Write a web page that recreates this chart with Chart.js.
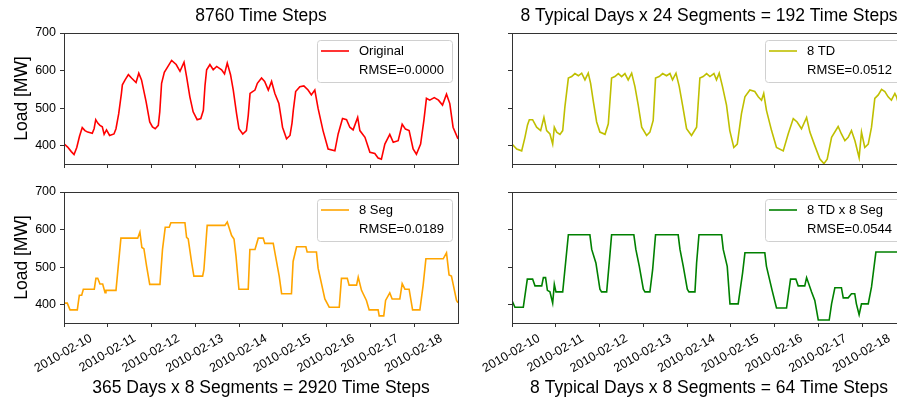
<!DOCTYPE html>
<html>
<head>
<meta charset="utf-8">
<script src="https://cdn.jsdelivr.net/npm/chart.js@4.4.0/dist/chart.umd.min.js"></script>
<style>
html, body { margin: 0; padding: 0; background: #fff; overflow: hidden; }
#fig { position: relative; width: 920px; height: 401px; }
#fig canvas { position: absolute; }
</style>
</head>
<body>
<div id="fig">
  <canvas id="c1"></canvas>
  <canvas id="c2"></canvas>
  <canvas id="c3"></canvas>
  <canvas id="c4"></canvas>
</div>
<script>
// tick labels
const dayLabels = ['2010-02-10', '2010-02-11', '2010-02-12', '2010-02-13', '2010-02-14',
                   '2010-02-15', '2010-02-16', '2010-02-17', '2010-02-18'];
const dayHours = [0, 24, 48, 72, 96, 120, 144, 168, 192];
const yTicks = [400, 500, 600, 700];

// Original, 8760 time steps (hours since 2010-02-10 00:00)
const origHours = [0, 2, 4, 5.5, 7, 8.5, 10, 11.5, 13, 15.5, 16.5, 17.4, 18.5, 19.7, 21, 22, 23.3, 25, 27.4, 28.5,
  30, 31.5, 32, 33.5, 35.3, 37, 39.5, 41, 42.5, 45, 47, 48.5, 50, 51.7, 52.5, 53.5, 55, 56.5, 59, 61.5,
  63.6, 65.8, 67.2, 69, 70.8, 73, 75, 76.4, 77.3, 78.2, 80, 81.8, 83.7, 86.4, 88, 89.5, 91.3, 92.8, 94.6, 95.9,
  98, 100, 101, 102, 103.4, 104.7, 106, 108.3, 110, 112, 113.8, 115.6, 117.8, 119, 119.8, 122, 123.9, 125, 125.7, 127,
  129.3, 131.5, 133.8, 135.6, 137.5, 139.3, 142, 144.8, 148.5, 150.3, 152.7, 154.9, 156.7, 158.5, 161, 162.2, 165, 167.7, 170.4, 172.2,
  174, 175.9, 178.6, 180.5, 183.2, 185.4, 187.2, 189.2, 191.4, 193.2, 195.5, 197.3, 198.7, 200.5, 203, 205.3, 207.5, 209.7, 211.5, 213.3, 216];
const origLoad = [405, 396, 384, 376, 395, 425, 448, 440, 436, 433, 445, 469, 460, 454, 450, 430, 442, 427, 431, 445,
  485, 540, 562, 575, 589, 580, 568, 593, 575, 517, 463, 450, 445, 454, 490, 566, 595, 607, 627, 616,
  598, 622, 584, 530, 490, 469, 472, 494, 560, 602, 616, 602, 611, 602, 591, 620, 589, 548, 485, 445,
  431, 440, 480, 539, 544, 548, 566, 580, 571, 548, 571, 539, 512, 475, 449, 418, 427, 460, 494, 544,
  557, 559, 548, 535, 548, 499, 440, 391, 386, 431, 472, 469, 449, 442, 475, 440, 422, 382, 379, 367,
  364, 404, 430, 409, 413, 457, 444, 440, 391, 377, 404, 467, 526, 521, 528, 521, 508, 537, 512, 449, 418];

// 8 typical days x 24 segments
const tdHours = [0, 2.6, 5.3, 7.1, 8.5, 9.5, 11.3, 13.5, 15.7, 17.5, 19, 20.8, 22.3, 23.2, 24.5, 26.3, 27.8, 29, 30.9, 32.7,
  34.5, 36.4, 38.2, 40, 41.8, 43.1, 44.6, 46.4, 48.2, 51, 52.8, 54.6, 56.4, 58.3, 60.1, 61.9, 63.7, 65.6, 67.4, 69.2,
  71.1, 73.8, 75.6, 77.4, 78.7, 80.7, 82.6, 84.7, 86.6, 88, 89.9, 91.7, 93.5, 95.7, 98.4, 101.2, 103, 104.8, 106.7, 108.5,
  110.7, 112.1, 113.6, 115.4, 117.6, 119.4, 121.6, 123.5, 125.8, 127.7, 130.4, 133.1, 135, 136.8, 138, 139.5, 142.3, 145, 148.7, 151.4,
  154.2, 156.3, 158.7, 161.5, 163.3, 166, 168.8, 171, 172.8, 175.2, 178.8, 180.6, 182.5, 184.3, 186.1, 188, 190.3, 191.6, 193.4, 195.3,
  197.1, 198.9, 200.8, 202.6, 204.4, 206.2, 208, 209.9, 210.8, 212.5, 214, 216];
const tdLoad = [404, 391, 386, 422, 455, 469, 469, 449, 440, 475, 440, 431, 404, 449, 436, 430, 440, 503, 580, 584,
  592, 586, 593, 575, 593, 566, 517, 463, 436, 430, 458, 580, 584, 592, 584, 592, 575, 593, 557, 508,
  449, 427, 436, 467, 580, 584, 592, 586, 592, 575, 593, 557, 508, 445, 427, 449, 580, 584, 592, 584,
  592, 575, 593, 557, 508, 440, 395, 404, 485, 530, 548, 544, 530, 521, 539, 494, 440, 395, 386, 431,
  472, 463, 445, 475, 436, 400, 364, 352, 364, 422, 451, 431, 413, 422, 440, 413, 368, 436, 395, 404,
  449, 526, 535, 550, 544, 530, 521, 539, 530, 500, 460, 425];

// 365 days x 8 segments
const segHours = [0, 1.8, 3.3, 7.3, 8.4, 9.7, 10.6, 16.6, 17.5, 18.5, 19.7, 21.2, 22.5, 23, 28.5, 31.2, 40.4, 41.6, 42.7, 43.8,
  45.3, 47, 52.6, 54, 55.5, 57.7, 58.6, 66.3, 67.2, 68.1, 70, 71.2, 76, 76.7, 78.5, 88.2, 89.5, 91.9, 93.2, 94.3,
  95.9, 101, 101.9, 104.7, 106.5, 109.2, 110.1, 114.7, 116.5, 118, 119.3, 124.7, 125.6, 127.5, 132.6, 133.3, 138.4, 139.3, 143, 145.4,
  150.9, 152.1, 155.3, 156.3, 160.4, 161.3, 163.1, 165.8, 167.3, 172.2, 172.8, 175.3, 176.3, 178.6, 179.9, 184.1, 185.4, 186.9, 189.2, 191.1,
  195.1, 196.9, 198.4, 207.9, 209.7, 211.1, 212.4, 215.2, 216];
const segLoad = [404, 404, 386, 386, 425, 425, 441, 441, 470, 470, 455, 455, 432, 438, 438, 577, 577, 593, 552, 549,
  502, 454, 454, 547, 606, 606, 618, 618, 579, 575, 511, 476, 476, 493, 611, 611, 620, 584, 575, 529,
  441, 441, 547, 547, 577, 577, 563, 563, 515, 475, 429, 429, 515, 554, 554, 540, 540, 497, 415, 393,
  393, 470, 470, 452, 452, 473, 438, 411, 386, 386, 370, 370, 411, 431, 415, 415, 456, 441, 441, 386,
  386, 452, 522, 522, 538, 479, 476, 411, 405];

// 8 typical days x 8 segments
const tdSegHours = [0, 1.6, 6.2, 8.4, 11.3, 12.6, 16.3, 17.2, 18.4, 19.4, 20.8, 22.3, 23.2, 24.1, 27.8, 30.9, 42.7, 43.7, 46, 48.2,
  49.1, 51.9, 53.3, 54.6, 66.8, 67.9, 69.8, 72, 72.9, 75.6, 77.1, 78.7, 91.1, 92.1, 93.9, 96.1, 97, 100.3, 101.2, 102.5,
  114.9, 115.8, 118, 119.5, 124, 126.4, 127.7, 138.6, 139.5, 142.6, 145, 150.5, 152.7, 155.6, 156.9, 160.5, 161.5, 164.2, 166, 167.9,
  173.9, 175.2, 177, 180.6, 181.6, 184.3, 186.1, 187.9, 188.8, 190.3, 191.6, 195.3, 197.1, 199.5, 216];
const tdSegLoad = [411, 393, 393, 468, 468, 450, 450, 472, 472, 438, 434, 404, 454, 434, 434, 586, 586, 547, 511, 441,
  434, 434, 511, 586, 586, 547, 502, 441, 434, 434, 493, 586, 586, 547, 502, 441, 434, 434, 511, 586,
  586, 547, 502, 402, 402, 484, 538, 538, 502, 438, 391, 391, 468, 468, 450, 450, 472, 434, 411, 359,
  359, 402, 445, 445, 418, 418, 429, 429, 402, 373, 402, 402, 447, 540, 540];

const FONT = 'Arial, "Liberation Sans", sans-serif';
const AXIS = '#333';

// frame, inside legend, titles and y label
const decorPlugin = {
  id: 'decor',
  afterDraw(chart) {
    const ctx = chart.ctx, a = chart.chartArea, o = chart.options.plugins.decor;
    ctx.save();
    ctx.strokeStyle = AXIS;
    ctx.lineWidth = 1;
    ctx.strokeRect(Math.round(a.left) + 0.5, Math.round(a.top) + 0.5,
                   Math.round(a.right - a.left), Math.round(a.bottom - a.top));

    // legend
    const bw = 135, bh = 42;
    const bx = a.right - 6 - bw, by = a.top + 7;
    ctx.beginPath();
    ctx.roundRect(bx + 0.5, by + 0.5, bw, bh, 3);
    ctx.fillStyle = 'rgba(255,255,255,0.8)';
    ctx.fill();
    ctx.strokeStyle = '#d0d0d0';
    ctx.stroke();
    ctx.beginPath();
    ctx.moveTo(bx + 4, by + 11);
    ctx.lineTo(bx + 32, by + 11);
    ctx.strokeStyle = o.color;
    ctx.lineWidth = 1.6;
    ctx.stroke();
    ctx.fillStyle = '#000';
    ctx.font = '13px ' + FONT;
    ctx.textBaseline = 'middle';
    ctx.textAlign = 'left';
    ctx.fillText(o.label, bx + 42, by + 11);
    ctx.fillText(o.rmse, bx + 42, by + 30);

    // title
    const cx = (a.left + a.right) / 2;
    ctx.font = '17.5px ' + FONT;
    ctx.textAlign = 'center';
    ctx.fillText(o.title, cx, o.titleY);

    if (o.yLabel) {
      ctx.translate(o.yLabelX, (a.top + a.bottom) / 2);
      ctx.rotate(-Math.PI / 2);
      ctx.fillText(o.yLabel, 0, 0);
    }
    ctx.restore();
  }
};

function panel(id, box, area, cfg) {
  const cv = document.getElementById(id);
  cv.width = box.w;
  cv.height = box.h;
  cv.style.left = box.x + 'px';
  cv.style.top = box.y + 'px';
  const padTop = area.t - box.y;
  const padRight = box.x + box.w - area.r;
  const yW = area.l - box.x;
  const xH = box.y + box.h - area.b;

  new Chart(cv, {
    type: 'line',
    data: {
      datasets: [{
        label: cfg.label,
        data: cfg.hours.map((h, i) => ({ x: h, y: cfg.load[i] })),
        borderColor: cfg.color,
        borderWidth: 1.6,
        pointRadius: 0,
        fill: false,
        tension: 0
      }]
    },
    options: {
      responsive: false,
      animation: false,
      devicePixelRatio: 1,
      layout: { padding: { top: padTop, right: padRight, left: 0, bottom: 0 } },
      plugins: {
        legend: { display: false },
        tooltip: { enabled: false },
        decor: {
          color: cfg.color, label: cfg.label, rmse: cfg.rmse,
          title: cfg.title, titleY: cfg.titleY - box.y,
          yLabel: cfg.yLabel, yLabelX: 22 - box.x
        }
      },
      scales: {
        x: {
          type: 'linear', min: 0, max: 216,
          afterBuildTicks: s => { s.ticks = dayHours.map(v => ({ value: v })); },
          afterFit: s => { s.height = xH; s.paddingLeft = 0; s.paddingRight = 0; },
          border: { display: false },
          grid: { drawOnChartArea: false, drawTicks: true, tickLength: 4, tickColor: AXIS, tickWidth: 1 },
          ticks: {
            display: cfg.xLabels, autoSkip: false, minRotation: 30, maxRotation: 30,
            labelOffset: 27, padding: 4, color: '#000',
            font: { family: FONT, size: 12.5 },
            callback: v => dayLabels[dayHours.indexOf(v)]
          }
        },
        y: {
          min: 351, max: 700,
          afterBuildTicks: s => { s.ticks = yTicks.map(v => ({ value: v })); },
          afterFit: s => { s.width = yW; s.paddingTop = 0; s.paddingBottom = 0; },
          border: { display: false },
          grid: { drawOnChartArea: false, drawTicks: true, tickLength: 4, tickColor: AXIS, tickWidth: 1 },
          ticks: { display: cfg.yLabels, padding: 4, color: '#000', font: { family: FONT, size: 12.5 } }
        }
      }
    },
    plugins: [decorPlugin]
  });
}

panel('c1', { x: 0, y: 0, w: 480, h: 178 }, { l: 64, t: 33, r: 458, b: 164 }, {
  hours: origHours, load: origLoad, color: '#ff0000', label: 'Original', rmse: 'RMSE=0.0000',
  title: '8760 Time Steps', titleY: 16, yLabel: 'Load [MW]', xLabels: false, yLabels: true
});
panel('c2', { x: 480, y: 0, w: 440, h: 178 }, { l: 512, t: 33, r: 906, b: 164 }, {
  hours: tdHours, load: tdLoad, color: '#bfbf00', label: '8 TD', rmse: 'RMSE=0.0512',
  title: '8 Typical Days x 24 Segments = 192 Time Steps', titleY: 16, yLabel: null, xLabels: false, yLabels: false
});
panel('c3', { x: 0, y: 178, w: 480, h: 223 }, { l: 64, t: 192, r: 458, b: 323 }, {
  hours: segHours, load: segLoad, color: '#ffa500', label: '8 Seg', rmse: 'RMSE=0.0189',
  title: '365 Days x 8 Segments = 2920 Time Steps', titleY: 388, yLabel: 'Load [MW]', xLabels: true, yLabels: true
});
panel('c4', { x: 480, y: 178, w: 440, h: 223 }, { l: 512, t: 192, r: 906, b: 323 }, {
  hours: tdSegHours, load: tdSegLoad, color: '#008000', label: '8 TD x 8 Seg', rmse: 'RMSE=0.0544',
  title: '8 Typical Days x 8 Segments = 64 Time Steps', titleY: 388, yLabel: null, xLabels: true, yLabels: false
});
</script>
</body>
</html>
